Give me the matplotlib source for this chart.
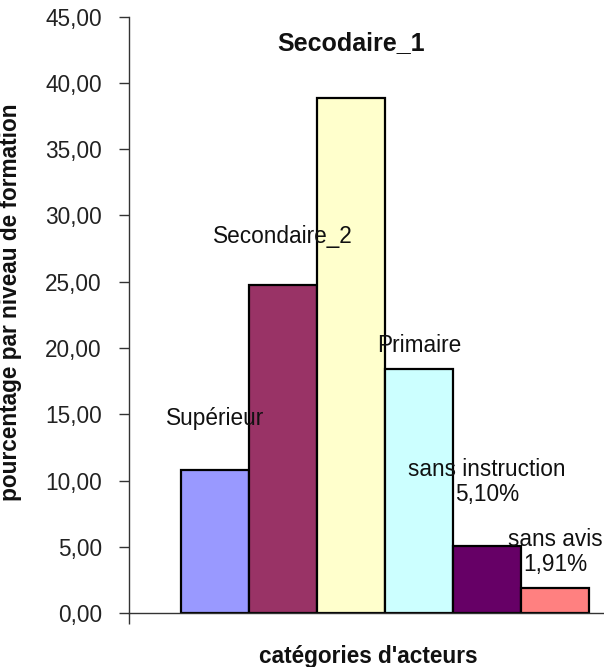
import matplotlib
matplotlib.use("Agg")
import matplotlib.pyplot as plt

plt.rcParams['font.family'] = ['Liberation Sans', 'DejaVu Sans']

# Share of actors by level of education (%)
categories = ["Supérieur", "Secondaire_2", "Secodaire_1", "Primaire",
              "sans instruction", "sans avis"]
values = [10.83, 24.78, 38.85, 18.45, 5.10, 1.91]
colors = ["#9999FF", "#993366", "#FFFFCC", "#CCFFFF", "#660066", "#FF8080"]
show_value = [False, False, False, False, True, True]
label_offsets_px = [51, 48, 55, 23, 28, 0]   # gap between bar top and its label
bold_label = [False, False, True, False, False, False]
yticks = [0, 5, 10, 15, 20, 25, 30, 35, 40, 45]

FS = 16.3

fig = plt.figure(figsize=(6.04, 6.67), dpi=100)
ax = fig.add_axes([129 / 604, 1 - 613.3 / 667, 474 / 604, 596.7 / 667])

x = list(range(len(categories)))
ax.bar(x, values, width=1.0, color=colors, edgecolor="black", linewidth=1.6,
       zorder=2)

for xi, v, name, sv, off, b in zip(x, values, categories, show_value,
                                   label_offsets_px, bold_label):
    txt = name
    if sv:
        txt = f"{name}\n{v:.2f}".replace(".", ",") + "%"
    ax.annotate(txt, xy=(xi, v), xytext=(0, off + (12 if sv else 0)),
                textcoords="offset pixels", ha="center",
                va="center" if not sv else "bottom",
                fontsize=18 if b else FS,
                fontweight="bold" if b else "normal",
                color="#111111", zorder=3, linespacing=1.1)

ax.set_xlim(-1.265, 5.706)
ax.set_ylim(0, 45)
ax.set_yticks(yticks)
ax.set_yticklabels([f"{t:.2f}".replace(".", ",") for t in yticks],
                   fontsize=FS, color="#222222")
ax.tick_params(axis="y", direction="out", length=7, width=1, pad=12.5,
               color="#333333")
ax.set_xticks([-1.265])
ax.set_xticklabels([""])
ax.tick_params(axis="x", direction="out", length=8, width=1, color="#333333")

for s in ["top", "right"]:
    ax.spines[s].set_visible(False)
for s in ["left", "bottom"]:
    ax.spines[s].set_color("#333333")
    ax.spines[s].set_linewidth(1)

ax.set_ylabel("pourcentage par niveau de formation", fontsize=FS,
              fontweight="bold", color="#111111")
ax.yaxis.set_label_coords((22 - 129) / 474, (613.3 - 302) / 596.7)
fig.text(368 / 604, 1 - 657 / 667, "catégories d'acteurs", ha="center",
         va="center", fontsize=FS, fontweight="bold", color="#111111")

fig.savefig("out.png", dpi=100, facecolor="white")
